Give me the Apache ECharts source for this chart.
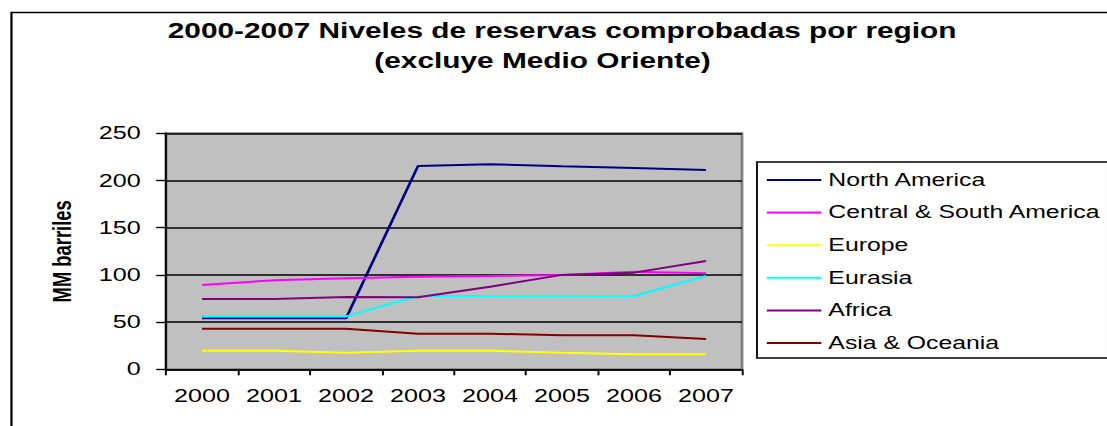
<!DOCTYPE html>
<html>
<head>
<meta charset="utf-8">
<script src="https://cdn.jsdelivr.net/npm/echarts@6/dist/echarts.min.js"></script>
<style>
  html, body { margin: 0; padding: 0; background: #ffffff; overflow: hidden; width: 1107px; height: 426px; }
  #main { width: 791px; height: 426px; transform: scaleX(1.4); transform-origin: 0 0; }
</style>
</head>
<body>
<div id="main"></div>
<script>
// ---- data ----
const years = ['2000', '2001', '2002', '2003', '2004', '2005', '2006', '2007'];
const seriesNames = ['North America', 'Central & South America', 'Europe', 'Eurasia', 'Africa', 'Asia & Oceania'];
const northAmerica = [54, 54, 54, 215.4, 217.2, 215, 213.2, 211];
const centralSouthAmerica = [89.3, 94.3, 96.4, 98.1, 98.8, 99.9, 103.4, 101.7];
const europe = [19.7, 19.7, 17.6, 19.7, 19.7, 17.6, 15.9, 15.9];
const eurasia = [56, 56, 56, 77.6, 77.6, 77.6, 77.6, 98.8];
const africa = [74.5, 74.5, 76.6, 76.3, 87.5, 100, 102.4, 114.7];
const asiaOceania = [43, 43, 43, 37.7, 37.7, 36, 36, 32.1];
const yTicks = [0, 50, 100, 150, 200, 250];
const titleLine1 = '2000-2007 Niveles de reservas comprobadas por region';
const titleLine2 = '(excluye Medio Oriente)';
const yAxisName = 'MM barriles';

const colors = ['#000080', '#FF00FF', '#FFFF00', '#00FFFF', '#800080', '#800000'];
const values = [northAmerica, centralSouthAmerica, europe, eurasia, africa, asiaOceania];
const FONT = "'Liberation Sans', Arial, sans-serif";

const chart = echarts.init(document.getElementById('main'), null, { renderer: 'svg' });
chart.setOption({
  animation: false,
  backgroundColor: '#ffffff',
  title: [
    { text: titleLine1, left: 401.5, top: 20, textAlign: 'center', padding: 0,
      textStyle: { fontFamily: FONT, fontSize: 21.3, fontWeight: 'bold', color: '#000' } },
    { text: titleLine2, left: 387.5, top: 50, textAlign: 'center', padding: 0,
      textStyle: { fontFamily: FONT, fontSize: 21.3, fontWeight: 'bold', color: '#000' } }
  ],
  graphic: [
    { type: 'rect', left: 5.7, top: 10, silent: true, z: -1,
      shape: { x: 0, y: 0, width: 1000, height: 600 },
      style: { fill: 'none', stroke: '#000', lineWidth: 1.6 } }
  ],
  legend: {
    orient: 'vertical',
    left: 540.7,
    top: 162,
    padding: [8, 5, 5, 7],
    itemGap: 12.6,
    itemWidth: 39,
    itemHeight: 2,
    icon: 'rect',
    borderColor: '#000',
    borderWidth: 1.3,
    backgroundColor: '#ffffff',
    textStyle: { fontFamily: FONT, fontSize: 17.7, color: '#000', lineHeight: 20 },
    data: seriesNames
  },
  grid: {
    left: 118.6, top: 133.3, width: 411.4, height: 236,
    show: true, backgroundColor: '#C0C0C0', borderColor: '#808080', borderWidth: 2
  },
  xAxis: {
    type: 'category',
    data: years,
    boundaryGap: true,
    axisLine: { show: true, lineStyle: { color: '#000', width: 1.6 } },
    axisTick: { show: true, alignWithLabel: false, interval: 0, length: 6, lineStyle: { color: '#000', width: 1.4 } },
    axisLabel: { fontFamily: FONT, fontSize: 18, color: '#000', margin: 18, interval: 0 },
    splitLine: { show: false }
  },
  yAxis: {
    type: 'value',
    min: yTicks[0], max: yTicks[yTicks.length - 1], interval: 50,
    name: yAxisName,
    nameLocation: 'middle',
    nameGap: 65,
    nameTextStyle: { fontFamily: FONT, fontSize: 18.4, fontWeight: 'bold', color: '#000' },
    axisLine: { show: true, lineStyle: { color: '#000', width: 1.4 } },
    axisTick: { show: true, length: 7, lineStyle: { color: '#000', width: 1.4 } },
    axisLabel: { fontFamily: FONT, fontSize: 18, color: '#000', margin: 18 },
    splitLine: { show: true, lineStyle: { color: '#000', width: 1.5 } }
  },
  series: seriesNames.map((name, i) => ({
    name: name,
    type: 'line',
    data: values[i],
    symbol: 'none',
    color: colors[i],
    lineStyle: { color: colors[i], width: 2 },
    itemStyle: { color: colors[i] }
  }))
});
</script>
</body>
</html>
